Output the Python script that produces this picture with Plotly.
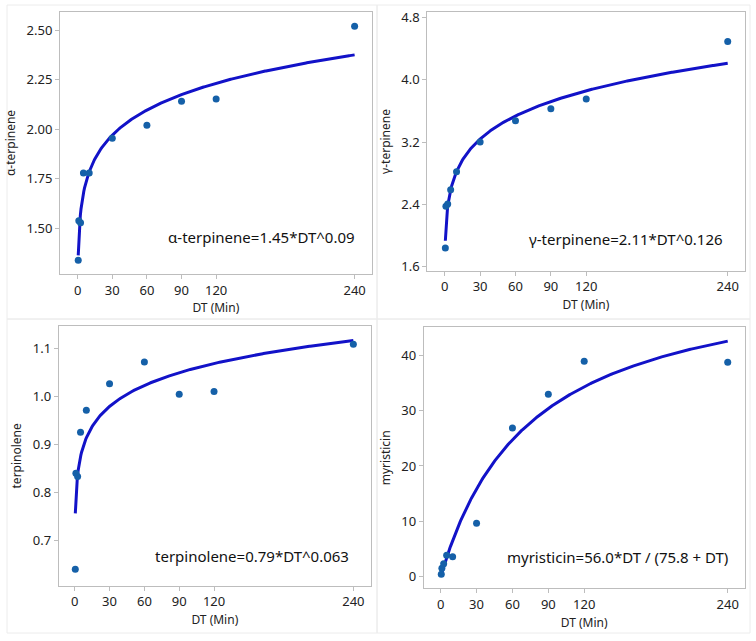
import numpy as np
import plotly.graph_objects as go

W, H = 756, 641

# ---- data ----
dt = [0.5, 1, 2.5, 5, 10, 30, 60, 90, 120, 240]
alpha_terpinene = [1.338, 1.537, 1.527, 1.778, 1.778, 1.953, 2.019, 2.140, 2.152, 2.519]
gamma_terpinene = [1.840, 2.375, 2.405, 2.589, 2.820, 3.201, 3.474, 3.628, 3.753, 4.490]
terpinolene = [0.640, 0.840, 0.833, 0.925, 0.971, 1.026, 1.071, 1.004, 1.010, 1.108]
myristicin = [0.42, 1.52, 2.35, 3.86, 3.62, 9.65, 26.87, 32.96, 38.92, 38.74]

# fitted model parameters (from the equations shown in the chart)
alpha_fit = [1.45, 0.09]
gamma_fit = [2.11, 0.126]
terp_fit = [0.79, 0.063]
myr_fit = [56.0, 75.8]

x_ticks = [0, 30, 60, 90, 120, 240]
y_ticks = [
    [1.50, 1.75, 2.00, 2.25, 2.50],
    [1.6, 2.4, 3.2, 4.0, 4.8],
    [0.7, 0.8, 0.9, 1.0, 1.1],
    [0, 10, 20, 30, 40],
]
y_labels = ["α-terpinene", "γ-terpinene", "terpinolene", "myristicin"]
equations = [
    "α-terpinene=1.45*DT^0.09",
    "γ-terpinene=2.11*DT^0.126",
    "terpinolene=0.79*DT^0.063",
    "myristicin=56.0*DT / (75.8 + DT)",
]

xs = np.linspace(0.5, 240, 400)
fits = [
    alpha_fit[0] * xs ** alpha_fit[1],
    gamma_fit[0] * xs ** gamma_fit[1],
    terp_fit[0] * xs ** terp_fit[1],
    myr_fit[0] * xs / (myr_fit[1] + xs),
]
series = [alpha_terpinene, gamma_terpinene, terpinolene, myristicin]

# plot-area pixel boxes (left, right, top, bottom)
boxes = [
    (60, 371.7, 12, 274),
    (427.3, 744.7, 12.3, 270.7),
    (58.7, 371, 326, 585.7),
    (423.7, 744.7, 327.3, 588.3),
]
x_ranges = [(-15.3, 254.8), (-14.8, 254.4), (-13.8, 255.2), (-14.2, 254.2)]
y_ranges = [(1.268, 2.591), (1.549, 4.864), (0.606, 1.146), (-2.1, 45.06)]
y_fmt = [".2f", ".1f", ".1f", "d"]
eq_pos = [(357, 237), (725.3, 239), (350.7, 556.3), (730.3, 557.3)]

MARK = "#1560a8"
LINE = "#1212c8"
FRAME = "#bdbdbd"
FONT = "Noto Sans"

fig = go.Figure()
layout = dict(
    width=W, height=H,
    margin=dict(l=0, r=0, t=0, b=0, autoexpand=False),
    paper_bgcolor="white", plot_bgcolor="white",
    showlegend=False,
    font=dict(family=FONT, size=12, color="#222222"),
)
shapes = []
annotations = []

for i in range(4):
    n = "" if i == 0 else str(i + 1)
    l, r, t, b = boxes[i]
    fig.add_trace(go.Scatter(
        x=xs, y=fits[i], mode="lines",
        line=dict(color=LINE, width=3),
        xaxis="x" + n, yaxis="y" + n, hoverinfo="skip"))
    fig.add_trace(go.Scatter(
        x=dt, y=series[i], mode="markers",
        marker=dict(color=MARK, size=7),
        xaxis="x" + n, yaxis="y" + n))
    layout["xaxis" + n] = dict(
        domain=[l / W, r / W], anchor="y" + n, automargin=False,
        range=list(x_ranges[i]), tickvals=x_ticks,
        showgrid=False, zeroline=False,
        showline=True, linecolor=FRAME, linewidth=1, mirror=True,
        ticks="outside", ticklen=4, tickcolor=FRAME,
        tickfont=dict(size=13, color="#222222"),
        title=dict(text="DT (Min)", font=dict(size=12, color="#222222"), standoff=6),
    )
    layout["yaxis" + n] = dict(
        domain=[1 - b / H, 1 - t / H], anchor="x" + n, automargin=False,
        range=list(y_ranges[i]), tickvals=y_ticks[i], tickformat=y_fmt[i],
        showgrid=False, zeroline=False,
        showline=True, linecolor=FRAME, linewidth=1, mirror=True,
        ticks="outside", ticklen=4, tickcolor=FRAME,
        tickfont=dict(size=13, color="#222222"),
        title=dict(text=y_labels[i], font=dict(size=12, color="#222222"), standoff=8),
    )
    ex, ey = eq_pos[i]
    annotations.append(dict(
        x=ex / W, y=1 - ey / H, xref="paper", yref="paper",
        xanchor="right", yanchor="middle", showarrow=False,
        text=equations[i], font=dict(size=15, color="#111111", family=FONT)))

# faint panel borders
for (x0, x1, y0, y1) in [(7, 377, 5, 319), (377, 750, 5, 319), (7, 377, 319, 633), (377, 750, 319, 633)]:
    shapes.append(dict(type="rect", xref="paper", yref="paper",
                       x0=x0 / W, x1=x1 / W, y0=1 - y1 / H, y1=1 - y0 / H,
                       line=dict(color="#ececec", width=1), fillcolor="rgba(0,0,0,0)",
                       layer="below"))

layout["shapes"] = shapes
layout["annotations"] = annotations
fig.update_layout(**layout)
fig.write_html(
    "out.html",
    config={"displayModeBar": False},
    post_script="document.body.style.margin='0';document.body.style.overflow='hidden';",
)
